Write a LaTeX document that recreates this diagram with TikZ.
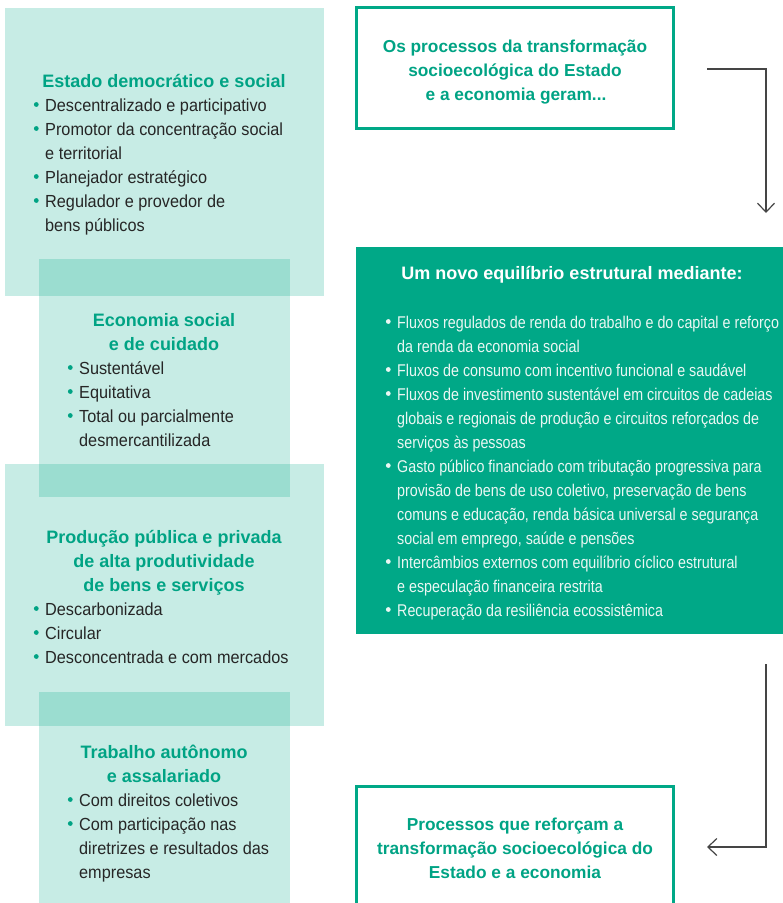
\documentclass[tikz,border=0pt]{standalone}
\usepackage{fontspec}
\setmainfont{Liberation Sans}
\newfontfamily\bodyfont{Liberation Sans}[FakeStretch=0.93]
\newfontfamily\lightfont{Liberation Sans}[FakeStretch=0.84]
\usetikzlibrary{arrows.meta}
\definecolor{teal1}{HTML}{00A887}
\definecolor{tealtxt}{HTML}{00A384}
\definecolor{darktxt}{HTML}{262626}
\definecolor{arrowc}{HTML}{454545}
\definecolor{paletxt}{HTML}{EAF7F3}
\tikzset{
 lightbox/.style={fill=teal1, fill opacity=0.22, draw=none, inner sep=0, anchor=north west},
 titletxt/.style={font=\fontsize{18}{24}\selectfont\bfseries, text=tealtxt, inner sep=0, anchor=base},
 boxtitle/.style={font=\fontsize{17.3}{24}\selectfont\bfseries, text=tealtxt, inner sep=0, anchor=base},
 whitetitle/.style={font=\fontsize{18}{24}\selectfont\bfseries, text=white, inner sep=0, anchor=base},
 bodytxt/.style={font=\bodyfont\fontsize{17.5}{24}\selectfont, text=darktxt, inner sep=0, anchor=base west},
 greentxt/.style={font=\lightfont\fontsize{17}{24}\selectfont, text=paletxt, inner sep=0, anchor=base west},
 outbox/.style={draw=teal1, line width=2.7pt, inner sep=0},
 flow/.style={draw=arrowc, line width=1.2pt, -{Straight Barb[length=9pt,width=17pt,line width=1.2pt]}},
}
\newcommand\bline[6]{\node[#1] (#2) at (#3,#4) {#5};
  \fill[#6] ([shift={(-8.7,-6.5)}]#2.base west) circle[radius=2.4];}
\begin{document}
\begin{tikzpicture}[x=1pt,y=-1pt]
\clip (0,0) rectangle (783,903);
\useasboundingbox (0,0) rectangle (783,903);
% left light boxes
\node[lightbox, minimum width=319pt, minimum height=288pt] (boxA) at (5,8) {};
\node[lightbox, minimum width=251pt, minimum height=238pt] (boxB) at (39,259) {};
\node[lightbox, minimum width=319pt, minimum height=262pt] (boxC) at (5,464) {};
\node[lightbox, minimum width=251pt, minimum height=240pt] (boxD) at (39,692) {};
% box A
\node[titletxt] (tA) at (164,87) {Estado democrático e social};
\bline{bodytxt}{a1}{45}{111}{Descentralizado e participativo}{tealtxt}
\bline{bodytxt}{a2}{45}{135}{Promotor da concentração social}{tealtxt}
\node[bodytxt] (a2b) at (45,159) {e territorial};
\bline{bodytxt}{a3}{45}{183}{Planejador estratégico}{tealtxt}
\bline{bodytxt}{a4}{45}{207}{Regulador e provedor de}{tealtxt}
\node[bodytxt] (a4b) at (45,231) {bens públicos};
% box B
\node[titletxt] (tB1) at (164,326) {Economia social};
\node[titletxt] (tB2) at (164,350) {e de cuidado};
\bline{bodytxt}{b1}{79}{374}{Sustentável}{tealtxt}
\bline{bodytxt}{b2}{79}{398}{Equitativa}{tealtxt}
\bline{bodytxt}{b3}{79}{422}{Total ou parcialmente}{tealtxt}
\node[bodytxt] (b3b) at (79,446) {desmercantilizada};
% box C
\node[titletxt] (tC1) at (164,543) {Produção pública e privada};
\node[titletxt] (tC2) at (164,567) {de alta produtividade};
\node[titletxt] (tC3) at (164,591) {de bens e serviços};
\bline{bodytxt}{c1}{45}{615}{Descarbonizada}{tealtxt}
\bline{bodytxt}{c2}{45}{639}{Circular}{tealtxt}
\bline{bodytxt}{c3}{45}{663}{Desconcentrada e com mercados}{tealtxt}
% box D
\node[titletxt] (tD1) at (164,758) {Trabalho autônomo};
\node[titletxt] (tD2) at (164,782) {e assalariado};
\bline{bodytxt}{d1}{79}{806}{Com direitos coletivos}{tealtxt}
\bline{bodytxt}{d2}{79}{830}{Com participação nas}{tealtxt}
\node[bodytxt] (d2b) at (79,854) {diretrizes e resultados das};
\node[bodytxt] (d2c) at (79,878) {empresas};
% top right box
\node[outbox, minimum width=316.8pt, minimum height=120.8pt] (top) at (514.9,67.9) {};
\node[boxtitle] (t1) at (515,52) {Os processos da transformação};
\node[boxtitle] (t2) at (515,76) {socioecológica do Estado};
\node[boxtitle] (t3) at (516,100) {e a economia geram...};
% green box
\node[fill=teal1, draw=none, inner sep=0, anchor=north west, minimum width=440pt, minimum height=387pt] (mid) at (356,246.7) {};
\node[whitetitle] (mt) at (572,279) {Um novo equilíbrio estrutural mediante:};
\bline{greentxt}{g1}{397}{328}{Fluxos regulados de renda do trabalho e do capital e reforço}{paletxt}
\node[greentxt] (g1b) at (397,352) {da renda da economia social};
\bline{greentxt}{g2}{397}{376}{Fluxos de consumo com incentivo funcional e saudável}{paletxt}
\bline{greentxt}{g3}{397}{400}{Fluxos de investimento sustentável em circuitos de cadeias}{paletxt}
\node[greentxt] (g3b) at (397,424) {globais e regionais de produção e circuitos reforçados de};
\node[greentxt] (g3c) at (397,448) {serviços às pessoas};
\bline{greentxt}{g4}{397}{472}{Gasto público financiado com tributação progressiva para}{paletxt}
\node[greentxt] (g4b) at (397,496) {provisão de bens de uso coletivo, preservação de bens};
\node[greentxt] (g4c) at (397,520) {comuns e educação, renda básica universal e segurança};
\node[greentxt] (g4d) at (397,544) {social em emprego, saúde e pensões};
\bline{greentxt}{g5}{397}{568}{Intercâmbios externos com equilíbrio cíclico estrutural}{paletxt}
\node[greentxt] (g5b) at (397,592) {e especulação financeira restrita};
\bline{greentxt}{g6}{397}{616}{Recuperação da resiliência ecossistêmica}{paletxt}
% bottom right box
\node[outbox, minimum width=316.8pt, minimum height=140pt] (bot) at (514.9,856.3) {};
\node[boxtitle] (u1) at (515,830) {Processos que reforçam a};
\node[boxtitle] (u2) at (515,854) {transformação socioecológica do};
\node[boxtitle] (u3) at (515,878) {Estado e a economia};
% arrows
\coordinate (s1) at (707,69);
\coordinate (e1) at (766,213);
\coordinate (s2) at (766,664);
\coordinate (e2) at (707,847);
\draw[flow] (s1) -| (e1);
\draw[flow] (s2) |- (e2);
\end{tikzpicture}
\end{document}
